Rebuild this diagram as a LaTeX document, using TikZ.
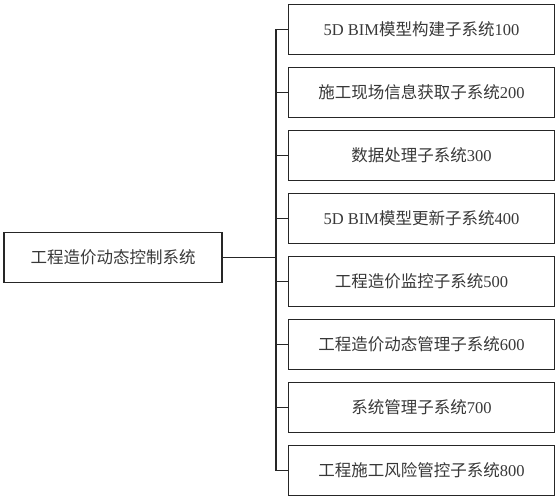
\documentclass[tikz,border=0pt]{standalone}
\usepackage{fontspec}
\setmainfont{Liberation Serif}
\newfontfamily\cjk{Noto Sans CJK SC}
\newcommand{\CJ}[1]{{\cjk #1}}
\begin{document}
\begin{tikzpicture}[x=1pt,y=-1pt,
  box/.style={draw=black!85, line width=1.4pt, minimum width=266pt, minimum height=50pt, inner sep=0pt, text=black!78, font=\fontsize{16.5}{18}\selectfont},
  mainbox/.style={box, minimum width=218pt},
  link/.style={draw=black!85, line width=1.4pt}]
\useasboundingbox (0,0) rectangle (559,500);
\node[box] (b1) at (421.5,29.3) {5D BIM\CJ{模型构建子系统}100};
\node[box] (b2) at (421.5,92.3) {\CJ{施工现场信息获取子系统}200};
\node[box] (b3) at (421.5,155.3) {\CJ{数据处理子系统}300};
\node[box] (b4) at (421.5,218.3) {5D BIM\CJ{模型更新子系统}400};
\node[box] (b5) at (421.5,281.3) {\CJ{工程造价监控子系统}500};
\node[box] (b6) at (421.5,344.3) {\CJ{工程造价动态管理子系统}600};
\node[box] (b7) at (421.5,407.3) {\CJ{系统管理子系统}700};
\node[box] (b8) at (421.5,470.3) {\CJ{工程施工风险管控子系统}800};
\node[mainbox] (sys) at (113,257.3) {\CJ{工程造价动态控制系统}};
\coordinate (trunk) at (276,0);
\draw[link] (b1.west) -- (b1.west -| trunk) |- (b8.west);
\foreach \k in {2,...,7} {\draw[link] (b\k.west) -- (b\k.west -| trunk);}
\draw[link] (sys.east) -- (sys.east -| trunk);
\end{tikzpicture}
\end{document}
